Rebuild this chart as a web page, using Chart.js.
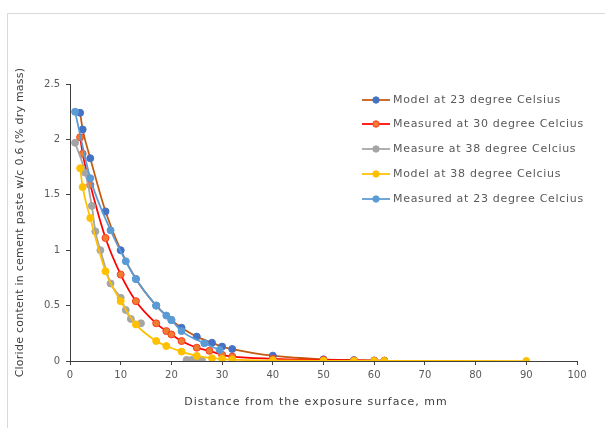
<!DOCTYPE html>
<html>
<head>
<meta charset="utf-8">
<script src="https://cdn.jsdelivr.net/npm/chart.js@4/dist/chart.umd.min.js"></script>
<style>
  html, body { margin: 0; padding: 0; background: #ffffff; overflow: hidden; }
  #wrap { position: relative; width: 605px; height: 428px; }
  #frame { position: absolute; left: 7px; top: 13px; width: 700px; height: 500px;
           border-top: 1px solid #d9d9d9; border-left: 1px solid #d9d9d9; }
  canvas { position: absolute; left: 0; top: 0; }
</style>
</head>
<body>
<div id="wrap">
  <div id="frame"></div>
  <canvas id="c" width="605" height="428"></canvas>
</div>
<script>
// ---- data ----
const seriesNames = [
  "Model at 23 degree Celsius",
  "Measured at 30 degree Celcius",
  "Measure at 38 degree Celcius",
  "Model at 38 degree Celcius",
  "Measured at 23 degree Celcius"
];

const model23X = [2, 2.5, 4, 7, 10, 13, 17, 20, 22, 25, 28, 30, 32, 40, 50, 56, 60, 62];
const model23Y = [2.24, 2.09, 1.83, 1.35, 1.00, 0.74, 0.50, 0.37, 0.30, 0.22, 0.165, 0.13, 0.108, 0.048, 0.015, 0.008, 0.005, 0.004];

const meas30X = [2, 2.5, 4, 7, 10, 13, 17, 19, 20, 22, 25, 27.5, 30, 32, 40, 50, 56, 60, 62];
const meas30Y = [2.02, 1.87, 1.59, 1.11, 0.78, 0.54, 0.34, 0.27, 0.24, 0.18, 0.12, 0.092, 0.056, 0.04, 0.02, 0.01, 0.005, 0.003, 0.002];

const meas38X = [1, 3, 4.3, 5, 6, 8, 10, 11, 12, 14, null, 23, 24, 25, 26];
const meas38Y = [1.97, 1.70, 1.40, 1.17, 1.00, 0.70, 0.57, 0.46, 0.38, 0.34, null, 0.01, 0.01, 0.01, 0.01];

const model38X = [2, 2.5, 4, 7, 10, 13, 17, 19, 22, 25, 28, 30, 32, 40, 50, 56, 60, 62, 90];
const model38Y = [1.74, 1.57, 1.29, 0.81, 0.54, 0.33, 0.18, 0.135, 0.085, 0.046, 0.025, 0.018, 0.013, 0.005, 0.002, 0.001, 0.001, 0.001, 0];

const meas23X = [1, 4, 8, 11, 13, 17, 19, 20, 22, 26.5, 29.5];
const meas23Y = [2.25, 1.65, 1.18, 0.90, 0.74, 0.50, 0.41, 0.37, 0.27, 0.16, 0.10];

const xTicks = [0, 10, 20, 30, 40, 50, 60, 70, 80, 90, 100];
const yTicks = [0, 0.5, 1, 1.5, 2, 2.5];

const xTitle = 'Distance from the exposure surface, mm';
const yTitle = 'Cloride content in cement paste w/c 0.6 (% dry mass)';

function pts(xs, ys) {
  return xs.map((x, i) => (x === null ? { x: (xs[i-1] + xs[i+1]) / 2, y: null } : { x: x, y: ys[i] }));
}

const FONT = "'DejaVu Sans', sans-serif";
const TXT = '#595959';
const TITLE = '#404040';

const styles = [
  { line: '#c55a11', fill: '#4472c4', border: '#4472c4', order: 4 },
  { line: '#ff0000', fill: '#ed7d31', border: '#ff3b1f', order: 3 },
  { line: '#a5a5a5', fill: '#a5a5a5', border: '#a5a5a5', order: 2 },
  { line: '#ffc000', fill: '#ffc000', border: '#ffc000', order: 1 },
  { line: '#5b9bd5', fill: '#5b9bd5', border: '#5b9bd5', order: 0 }
];
const allData = [
  pts(model23X, model23Y),
  pts(meas30X, meas30Y),
  pts(meas38X, meas38Y),
  pts(model38X, model38Y),
  pts(meas23X, meas23Y)
];

const datasets = seriesNames.map((name, i) => ({
  label: name,
  data: allData[i],
  showLine: true,
  spanGaps: false,
  borderColor: styles[i].line,
  backgroundColor: styles[i].fill,
  pointBackgroundColor: styles[i].fill,
  pointBorderColor: styles[i].border,
  pointBorderWidth: 1,
  pointRadius: 3.5,
  borderWidth: 1.75,
  cubicInterpolationMode: 'monotone',
  order: styles[i].order
}));

const textPlugin = {
  id: 'inlineLegendAndTitles',
  afterDraw(chart) {
    const ctx = chart.ctx;
    const area = chart.chartArea;
    const x0 = 362, x1 = 390, tx = 393;
    const rows = [100, 124, 149, 174, 199];
    ctx.save();
    ctx.font = "11px " + FONT;
    ctx.letterSpacing = '0.7px';
    ctx.textBaseline = 'middle';
    ctx.textAlign = 'left';
    chart.data.datasets.forEach((ds, i) => {
      const y = rows[i];
      ctx.strokeStyle = ds.borderColor;
      ctx.lineWidth = 1.75;
      ctx.beginPath(); ctx.moveTo(x0, y); ctx.lineTo(x1, y); ctx.stroke();
      ctx.fillStyle = ds.pointBackgroundColor;
      ctx.strokeStyle = ds.pointBorderColor;
      ctx.lineWidth = 1;
      ctx.beginPath(); ctx.arc((x0 + x1) / 2, y, 3.2, 0, Math.PI * 2); ctx.fill(); ctx.stroke();
      ctx.fillStyle = TXT;
      ctx.fillText(ds.label, tx, y);
    });
    // axis titles
    ctx.fillStyle = TITLE;
    ctx.textAlign = 'center';
    ctx.font = "11px " + FONT;
    ctx.letterSpacing = '1px';
    ctx.fillText(xTitle, 316, 402);
    ctx.save();
    ctx.translate(20, (area.top + area.bottom) / 2);
    ctx.rotate(-Math.PI / 2);
    ctx.letterSpacing = '0.25px';
    ctx.fillText(yTitle, 0, 0);
    ctx.restore();
    ctx.restore();
  }
};

new Chart(document.getElementById('c'), {
  type: 'scatter',
  data: { datasets: datasets },
  plugins: [textPlugin],
  options: {
    responsive: false,
    animation: false,
    layout: { padding: { top: 84, right: 28, left: 7, bottom: 0 } },
    plugins: { legend: { display: false }, tooltip: { enabled: false } },
    scales: {
      x: {
        type: 'linear', min: 0, max: 100,
        afterFit(s) { s.height = 67; },
        afterBuildTicks(s) { s.ticks = xTicks.map(v => ({ value: v })); },
        ticks: { color: TXT, font: { family: FONT, size: 10 }, padding: 4, callback: v => String(v) },
        grid: { display: true, drawOnChartArea: false, drawTicks: true, tickLength: 4, color: '#404040' },
        border: { display: true, color: '#404040', width: 1 }
      },
      y: {
        type: 'linear', min: 0, max: 2.5,
        afterFit(s) { s.width = 63; },
        afterBuildTicks(s) { s.ticks = yTicks.map(v => ({ value: v })); },
        ticks: { color: TXT, font: { family: FONT, size: 10 }, padding: 6, callback: v => String(v) },
        grid: { display: true, drawOnChartArea: false, drawTicks: true, tickLength: 4, color: '#404040' },
        border: { display: true, color: '#404040', width: 1 }
      }
    }
  }
});
</script>
</body>
</html>
